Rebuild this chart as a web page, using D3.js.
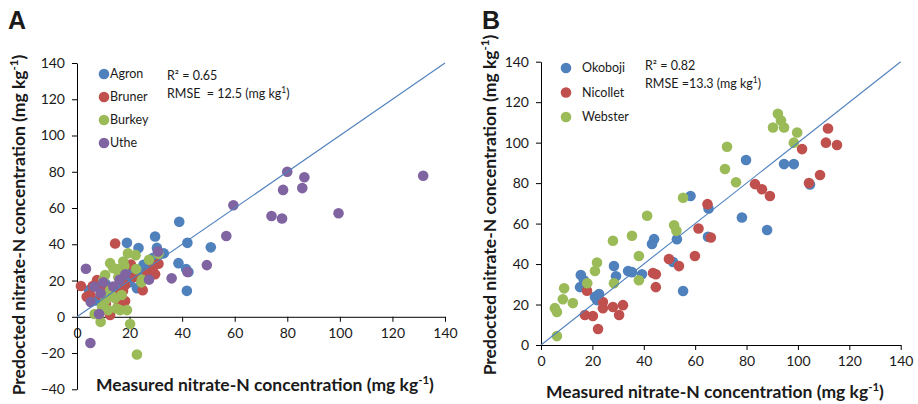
<!DOCTYPE html>
<html>
<head>
<meta charset="utf-8">
<script src="https://cdn.jsdelivr.net/npm/d3@7"></script>
<style>
  body { margin: 0; background: #fff; }
  svg { display: block; }
  text { font-family: Lato, "Open Sans", sans-serif; fill: #1a1a1a; }
</style>
</head>
<body>
<div id="chart"></div>
<script>
// ---- panel A: measured vs predicted, four sites ----
const agron = [[38.9,52.4],[19,40.8],[23.4,37.9],[29.7,44.3],[30.4,38],[42,40.8],[50.9,38.3],[38.6,29.6],
  [41.5,26.3],[42.4,24.7],[41.8,14.3],[22.8,15.8],[27,24],[25.3,28.7],[29,32.6],[22,25.8],[19.4,22],[20,19],
  [17.5,18.5],[26,25.8],[14.5,14.7],[4.6,14.7],[9.5,14.7],[28.5,26],[12,12],[16,17],[24,22],[21,27],[7,9],
  [18,26],[33,35],[11,18]];
const bruner = [[14.5,40.4],[31,29.3],[29.7,23.5],[25,14.7],[1.5,17],[7.6,20.2],[6,17],[12.6,1],[3.7,11],
  [18.3,8.7],[20.5,28.8],[17.5,14.2],[17,8],[12.2,2.5],[16.4,9.7],[15.6,5.4],[18.3,17.5],[29,27.4],[26.7,24],
  [9,12],[11,7],[14,15],[5,12],[22,22],[10,16]];
const burkey = [[12.6,29.6],[17.6,30.5],[19.4,35],[22.3,34],[24.7,20.5],[27.4,31.5],[31,34.8],[10.7,23],
  [15.2,26.3],[13.8,26.8],[22.5,26.3],[15.7,21.8],[10,20.2],[12.6,14.7],[10.7,9],[11.8,3.7],[14.5,10.2],
  [16.4,3.7],[19,3.7],[9.5,5.4],[6.7,1.5],[20.2,-4],[9,-2.8],[22.8,-20.8],[15.1,4.6],[11.2,10.2],[17,12],
  [13,12],[24.5,19],[18,28]];
const uthe = [[80,80],[86.5,77],[78.4,70],[85.7,71],[131.7,77.8],[59.5,61.5],[74,55.6],[78,54.2],[99.5,57.1],
  [56.8,44.6],[49.4,28.5],[36,21.2],[42,24.7],[30.8,36],[27.4,20.5],[3.4,26.5],[5.1,-14.5],[5.2,8.1],[8.4,1.5],
  [6.6,16.6],[10,19],[9,13],[13.8,16.7],[16.2,20.4],[18.4,23.5]];

// ---- panel B: three soils ----
const okoboji = [[15.5,34.6],[15.2,28.6],[16.7,32],[21,23.8],[22.6,25.2],[21.8,22.2],[28.4,39],[29.2,34],
  [33.9,36.6],[35.4,36],[39.3,35],[43.2,49.9],[44,52.3],[51.4,41],[52.9,52.3],[55.3,26.7],[58.2,73.6],
  [65.2,67.5],[65,53.5],[78.2,63],[88,56.8],[79.8,91.4],[94.6,89.4],[98.4,89.4],[104.7,79.3]];
const nicollet = [[17.9,26.8],[17.1,14.8],[20.2,14.3],[22.2,7.9],[24.1,21.2],[24.1,18.2],[28,18.8],[30.4,14.8],
  [31.9,19.7],[43.6,35.6],[44.7,35],[44.7,28.6],[49.8,42.5],[53.7,39],[59.9,44],[61.3,57.6],[66.1,53.1],
  [64.8,69.6],[83.3,79.5],[86,77],[89.1,73.6],[104.3,80],[108.6,84],[101.6,96.8],[110.9,100],[111.7,107],
  [115.2,98.8]];
const webster = [[6.2,4.4],[5.4,18.2],[6.2,16.3],[8.5,22.6],[9,28],[12.4,20.7],[18,30.5],[21,36.6],[21.8,40.8],
  [28.4,30.5],[28,51.5],[35.4,54],[38.1,44],[38.1,32],[41.3,63.9],[51.8,59.2],[52.7,56.4],[55.3,72.8],
  [71.6,87],[72.4,98],[75.9,80.4],[90.3,107.5],[92.2,114.3],[93.4,111],[94.6,107.5],[98.4,100],[99.7,105]];

const ticksX = [0, 20, 40, 60, 80, 100, 120, 140];
const ticksYA = [-40, -20, 0, 20, 40, 60, 80, 100, 120, 140];
const ticksYB = [0, 20, 40, 60, 80, 100, 120, 140];

const BLUE = "#4f81bd", RED = "#c0504d", GREEN = "#9bbb59", PURPLE = "#8064a2";

const svg = d3.select("#chart").append("svg")
    .attr("width", 918).attr("height", 404);

function panel(o) {
  const x = d3.scaleLinear().domain([0, 140]).range(o.xr);
  const y = d3.scaleLinear().domain(o.yd).range(o.yr);
  const g = svg.append("g");

  // x axis sits on y = 0
  const ax = g.append("g")
      .attr("transform", `translate(0,${y(0)})`)
      .call(d3.axisBottom(x).tickValues(ticksX).tickSize(5).tickSizeOuter(0).tickPadding(6));
  const ay = g.append("g")
      .attr("transform", `translate(${x(0)},0)`)
      .call(d3.axisLeft(y).tickValues(o.yt).tickSize(5).tickSizeOuter(0).tickPadding(7));
  [ax, ay].forEach(a => {
    a.selectAll("path,line").attr("stroke", "#000");
    a.selectAll("text").style("font-size", "14px").attr("fill", "#1a1a1a");
  });

  // points, series in legend order
  o.series.forEach(s => {
    g.append("g").selectAll("circle")
      .data(s.data).join("circle")
        .attr("cx", d => x(d[0]))
        .attr("cy", d => y(d[1]))
        .attr("r", 5.3)
        .attr("fill", s.color);
  });

  // 1:1 line
  g.append("line")
      .attr("x1", x(0)).attr("y1", y(0))
      .attr("x2", x(140)).attr("y2", y(140))
      .attr("stroke", BLUE).attr("stroke-width", 1.1);

  // legend
  o.series.forEach((s, i) => {
    const ly = o.leg.y + i * o.leg.dy;
    g.append("circle").attr("cx", o.leg.x).attr("cy", ly).attr("r", 5.3).attr("fill", s.color);
    g.append("text").attr("x", o.leg.tx).attr("y", ly).attr("dy", "0.35em")
      .style("font-size", "12.5px").text(s.name);
  });

  // stats
  const st = g.append("g").style("font-size", "12.5px");
  st.append("text").attr("x", o.stat.x).attr("y", o.stat.y).text(`R² = ${o.r2}`);
  const rm = st.append("text").attr("x", o.stat.x).attr("y", o.stat.y + 18)
      .attr("xml:space", "preserve");
  rm.append("tspan").text(o.rmse + " (mg kg");
  rm.append("tspan").attr("dy", -5).style("font-size", "8.5px").text("1");
  rm.append("tspan").attr("dy", 5).text(")");

  // axis titles
  const xt = g.append("text").attr("x", o.xt.x).attr("y", o.xt.y).attr("text-anchor", "middle")
      .style("font-size", "17.5px").style("font-weight", "bold");
  xt.append("tspan").text("Measured nitrate-N concentration (mg kg");
  xt.append("tspan").attr("dy", -7).style("font-size", "11.5px").text("-1");
  xt.append("tspan").attr("dy", 7).text(")");

  const yt = g.append("text")
      .attr("transform", `translate(${o.yt2.x},${o.yt2.y}) rotate(-90)`)
      .attr("text-anchor", "middle")
      .style("font-size", "17.5px").style("font-weight", "bold");
  yt.append("tspan").text("Predocted nitrate-N concentration (mg kg");
  yt.append("tspan").attr("dy", -7).style("font-size", "11.5px").text("-1");
  yt.append("tspan").attr("dy", 7).text(")");

  // panel letter
  g.append("text").attr("x", o.letter.x).attr("y", o.letter.y)
      .style("font-family", "'Liberation Sans', Arial, sans-serif")
      .style("font-size", "25px").style("font-weight", "bold").attr("fill", "#000")
      .text(o.letter.t);
}

panel({
  xr: [77, 445], yd: [-40, 140], yr: [389.3, 63], yt: ticksYA,
  series: [
    {name: "Agron", data: agron, color: BLUE},
    {name: "Bruner", data: bruner, color: RED},
    {name: "Burkey", data: burkey, color: GREEN},
    {name: "Uthe", data: uthe, color: PURPLE}
  ],
  leg: {x: 104, tx: 110, y: 74, dy: 23},
  stat: {x: 167, y: 80}, r2: "0.65", rmse: "RMSE  = 12.5",
  xt: {x: 265, y: 391},
  yt2: {x: 25, y: 225},
  letter: {x: 8, y: 29, t: "A"}
});

panel({
  xr: [541, 900.7], yd: [0, 140], yr: [345, 61.7], yt: ticksYB,
  series: [
    {name: "Okoboji", data: okoboji, color: BLUE},
    {name: "Nicollet", data: nicollet, color: RED},
    {name: "Webster", data: webster, color: GREEN}
  ],
  leg: {x: 566, tx: 582, y: 68, dy: 24.5},
  stat: {x: 645, y: 70}, r2: "0.82", rmse: "RMSE =13.3",
  xt: {x: 715, y: 398},
  yt2: {x: 496, y: 205},
  letter: {x: 482, y: 29, t: "B"}
});
</script>
</body>
</html>
